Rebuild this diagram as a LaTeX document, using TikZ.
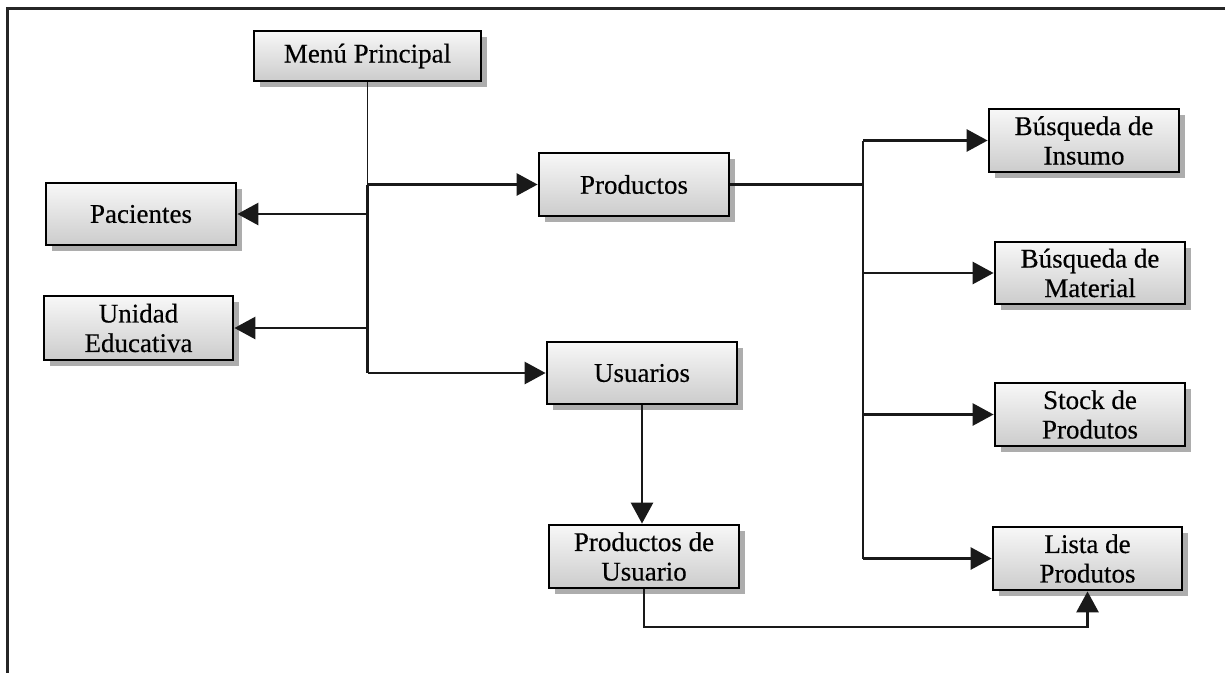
\documentclass[tikz,border=0pt]{standalone}
\usepackage{fontspec}
\setmainfont[FakeBold=0.4]{Liberation Serif}
\usetikzlibrary{arrows.meta,shadows}

\tikzset{
  menubox/.style={
    draw=black, line width=2.8pt, inner sep=0pt, align=center,
    minimum width=190pt, minimum height=63pt,
    top color=black!3, bottom color=black!20,
    drop shadow={shadow xshift=6pt, shadow yshift=-6pt, fill=black!32, opacity=1},
    font=\fontsize{27}{29.5}\selectfont
  },
  link/.style={draw=black!90, line width=2.8pt},
  thinlink/.style={draw=black!90, line width=1.6pt},
  arrow/.style={link, -{Triangle[length=21pt,width=22pt]}},
  frame/.style={draw=black!85, line width=3pt}
}

\begin{document}
\begin{tikzpicture}[x=1pt, y=-1pt]
  \useasboundingbox (0,0) rectangle (1225,673);

  % page frame: top rule and left rule
  \coordinate (ftl) at (7,8);
  \coordinate (ftr) at (1225,8);
  \coordinate (fbl) at (7,673);
  \draw[frame] (ftr) -- (ftl) -- (fbl);

  % boxes
  \node[menubox, minimum width=227pt, minimum height=50pt] (menu) at (367.5,56) {Menú Principal};
  \node[menubox, minimum height=62pt] (pac) at (141,214) {Pacientes};
  \node[menubox, minimum width=189pt, minimum height=64pt] (uni) at (138.5,328) {Unidad\\Educativa};
  \node[menubox] (prod) at (634,184.5) {Productos};
  \node[menubox, minimum height=62pt] (usu) at (642,373) {Usuarios};
  \node[menubox] (pdu) at (644,556.5) {Productos de\\Usuario};
  \node[menubox] (ins) at (1084,140.5) {Búsqueda de\\Insumo};
  \node[menubox, minimum height=62pt] (mat) at (1090,273) {Búsqueda de\\Material};
  \node[menubox] (sto) at (1090,414.5) {Stock de\\Produtos};
  \node[menubox, minimum width=189pt] (lis) at (1087.5,558.5) {Lista de\\Produtos};

  % left distribution trunk
  \coordinate (lt) at (367.5,184.5);
  \coordinate (lb) at (367.5,373);
  \draw[thinlink] (menu.south) -- (lt);
  \draw[link] (lt) -- (lb);
  \draw[arrow] (lt) -- (prod.west);
  \draw[arrow] (lt |- pac.east) -- (pac.east);
  \draw[arrow] (lt |- uni.east) -- (uni.east);
  \draw[arrow] (lb) -- (usu.west);

  % right distribution trunk
  \coordinate (rt) at (863,140.5);
  \coordinate (rb) at (863,558.5);
  \draw[link] (prod.east) -- (rt |- prod.east);
  \draw[link] (rt) -- (rb);
  \draw[arrow] (rt) -- (ins.west);
  \draw[arrow] (rt |- mat.west) -- (mat.west);
  \draw[arrow] (rt |- sto.west) -- (sto.west);
  \draw[arrow] (rb) -- (lis.west);

  % user products
  \draw[arrow] (usu.south) -- (usu.south |- pdu.north);
  \coordinate (loop) at (644,627);
  \draw[arrow] (pdu.south) -- (loop) -| (lis.south);
\end{tikzpicture}
\end{document}
